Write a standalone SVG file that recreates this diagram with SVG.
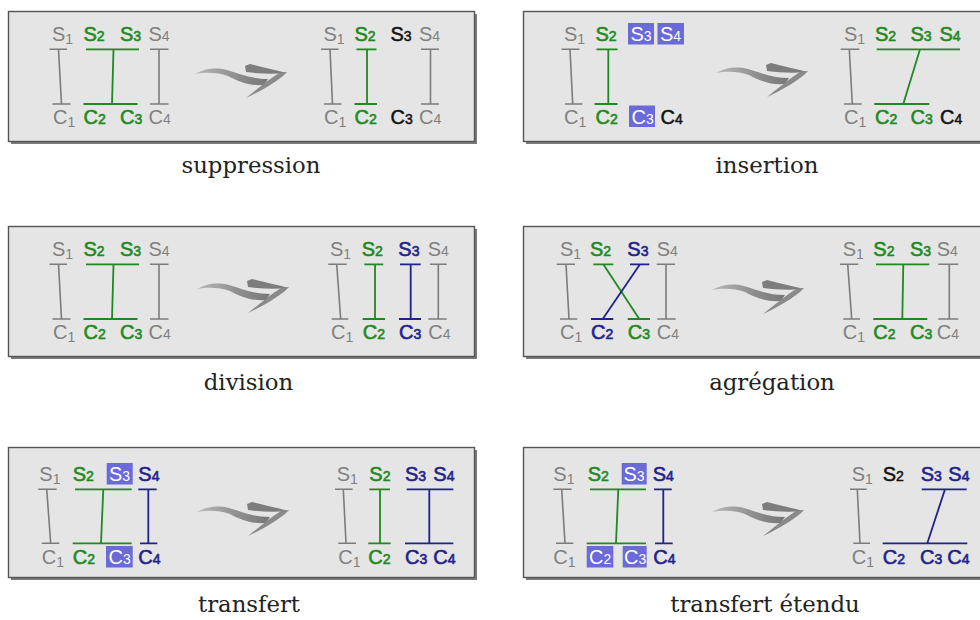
<svg xmlns="http://www.w3.org/2000/svg" width="980" height="620" viewBox="0 0 980 620">
<defs>
<style>
text{font-family:"Liberation Sans",Arial,sans-serif;font-size:20px}
.cap{font-family:"DejaVu Serif",serif;font-size:22.8px;fill:#222;text-anchor:middle}
.sub{font-size:14px}
.g{fill:#808080}
.gr{fill:#1f8a1f;stroke:#1f8a1f;stroke-width:0.6}
.bl{fill:#22228c;stroke:#22228c;stroke-width:0.6}
.bk{fill:#111;stroke:#111;stroke-width:0.5}
.wh{fill:#fff}
.hl{fill:#6a6ad8}
.lg{stroke:#7c7c7c;stroke-width:1.6;fill:none}
.lgr{stroke:#1f8a1f;stroke-width:1.8;fill:none}
.lbl{stroke:#22228c;stroke-width:1.8;fill:none}
.panel{fill:#e5e5e5;stroke:#555;stroke-width:1.4}
.shadow{fill:#7a7a7a}
</style>
<linearGradient id="ag" x1="0" y1="0" x2="1" y2="0">
<stop offset="0" stop-color="#b8b8b8"/>
<stop offset="0.6" stop-color="#8c8c8c"/>
<stop offset="1" stop-color="#777"/>
</linearGradient>
<g id="arrow">
<path fill="url(#ag)" d="M0,10 C9,5 19,3 32,6 C45,10 57,15 73,15 L69,21 C55,22 44,18 33,12 C22,8 10,8 0,10 Z"/>
<path fill="#7d7d7d" d="M50,2 L55,0 C66,3 80,6 92,9 C80,10 66,10 51,8 Z"/>
<path fill="#8a8a8a" d="M92,8 L88,12 C78,20 64,28 51,34 C61,26 73,16 84,9 Z"/>
</g>
</defs>

<!-- panels -->
<g id="panel-suppression">
<rect class="shadow" x="11" y="14" width="466" height="130"/>
<rect class="panel" x="8.5" y="11.5" width="466" height="130"/>
<use href="#arrow" x="195" y="64"/>
<g class="labels">
<text class="g" x="52" y="41">S<tspan class="sub" dy="3">1</tspan></text>
<text class="gr" x="83.5" y="41">S<tspan class="sub">2</tspan></text>
<text class="gr" x="120" y="41">S<tspan class="sub">3</tspan></text>
<text class="g" x="148.5" y="41">S<tspan class="sub">4</tspan></text>
<text class="g" x="53" y="123.5">C<tspan class="sub" dy="3">1</tspan></text>
<text class="gr" x="83.5" y="123.5">C<tspan class="sub">2</tspan></text>
<text class="gr" x="120" y="123.5">C<tspan class="sub">3</tspan></text>
<text class="g" x="148.5" y="123.5">C<tspan class="sub">4</tspan></text>
<text class="g" x="323.5" y="41">S<tspan class="sub" dy="3">1</tspan></text>
<text class="gr" x="354.5" y="41">S<tspan class="sub">2</tspan></text>
<text class="bk" x="390.5" y="41">S<tspan class="sub">3</tspan></text>
<text class="g" x="419" y="41">S<tspan class="sub">4</tspan></text>
<text class="g" x="324" y="123.5">C<tspan class="sub" dy="3">1</tspan></text>
<text class="gr" x="354.5" y="123.5">C<tspan class="sub">2</tspan></text>
<text class="bk" x="390.5" y="123.5">C<tspan class="sub">3</tspan></text>
<text class="g" x="419" y="123.5">C<tspan class="sub">4</tspan></text>
</g>
</g>

<g id="panel-insertion">
<rect class="shadow" x="526" y="14" width="470" height="130"/>
<rect class="panel" x="523.5" y="11.5" width="470" height="130"/>
<use href="#arrow" x="716" y="63"/>
<g class="labels">
<text class="g" x="564" y="41">S<tspan class="sub" dy="3">1</tspan></text>
<text class="gr" x="595.5" y="41">S<tspan class="sub">2</tspan></text>
<rect class="hl" x="628" y="23" width="26" height="21.5"/>
<text class="wh" x="630.5" y="41">S<tspan class="sub">3</tspan></text>
<rect class="hl" x="657.5" y="23" width="26.5" height="21.5"/>
<text class="wh" x="660" y="41">S<tspan class="sub">4</tspan></text>
<text class="g" x="564" y="123.5">C<tspan class="sub" dy="3">1</tspan></text>
<text class="gr" x="595.5" y="123.5">C<tspan class="sub">2</tspan></text>
<rect class="hl" x="629" y="105.5" width="26" height="21.5"/>
<text class="wh" x="631.5" y="123.5">C<tspan class="sub">3</tspan></text>
<text class="bk" x="660.5" y="123.5">C<tspan class="sub">4</tspan></text>
<text class="g" x="844" y="41">S<tspan class="sub" dy="3">1</tspan></text>
<text class="gr" x="875" y="41">S<tspan class="sub">2</tspan></text>
<text class="gr" x="910.5" y="41">S<tspan class="sub">3</tspan></text>
<text class="gr" x="939.5" y="41">S<tspan class="sub">4</tspan></text>
<text class="g" x="844" y="123.5">C<tspan class="sub" dy="3">1</tspan></text>
<text class="gr" x="875" y="123.5">C<tspan class="sub">2</tspan></text>
<text class="gr" x="910.5" y="123.5">C<tspan class="sub">3</tspan></text>
<text class="bk" x="940" y="123.5">C<tspan class="sub">4</tspan></text>
</g>
</g>

<g id="panel-division">
<rect class="shadow" x="11" y="229" width="466" height="130"/>
<rect class="panel" x="8.5" y="226.5" width="466" height="130"/>
<use href="#arrow" x="197" y="279"/>
<g class="labels">
<text class="g" x="52" y="256">S<tspan class="sub" dy="3">1</tspan></text>
<text class="gr" x="83.5" y="256">S<tspan class="sub">2</tspan></text>
<text class="gr" x="120" y="256">S<tspan class="sub">3</tspan></text>
<text class="g" x="148.5" y="256">S<tspan class="sub">4</tspan></text>
<text class="g" x="53" y="338.5">C<tspan class="sub" dy="3">1</tspan></text>
<text class="gr" x="83.5" y="338.5">C<tspan class="sub">2</tspan></text>
<text class="gr" x="120" y="338.5">C<tspan class="sub">3</tspan></text>
<text class="g" x="148.5" y="338.5">C<tspan class="sub">4</tspan></text>
<text class="g" x="330" y="256">S<tspan class="sub" dy="3">1</tspan></text>
<text class="gr" x="361.7" y="256">S<tspan class="sub">2</tspan></text>
<text class="bl" x="398.3" y="256">S<tspan class="sub">3</tspan></text>
<text class="g" x="427.7" y="256">S<tspan class="sub">4</tspan></text>
<text class="g" x="331" y="338.5">C<tspan class="sub" dy="3">1</tspan></text>
<text class="gr" x="362.7" y="338.5">C<tspan class="sub">2</tspan></text>
<text class="bl" x="399" y="338.5">C<tspan class="sub">3</tspan></text>
<text class="g" x="428.3" y="338.5">C<tspan class="sub">4</tspan></text>
</g>
</g>

<g id="panel-agregation">
<rect class="shadow" x="526" y="229" width="470" height="130"/>
<rect class="panel" x="523.5" y="226.5" width="470" height="130"/>
<use href="#arrow" x="712" y="280"/>
<g class="labels">
<text class="g" x="560" y="256">S<tspan class="sub" dy="3">1</tspan></text>
<text class="gr" x="590" y="256">S<tspan class="sub">2</tspan></text>
<text class="bl" x="627.3" y="256">S<tspan class="sub">3</tspan></text>
<text class="g" x="656.7" y="256">S<tspan class="sub">4</tspan></text>
<text class="g" x="560" y="338.5">C<tspan class="sub" dy="3">1</tspan></text>
<text class="bl" x="591" y="338.5">C<tspan class="sub">2</tspan></text>
<text class="gr" x="627.7" y="338.5">C<tspan class="sub">3</tspan></text>
<text class="g" x="656.7" y="338.5">C<tspan class="sub">4</tspan></text>
<text class="g" x="842.7" y="256">S<tspan class="sub" dy="3">1</tspan></text>
<text class="gr" x="873.3" y="256">S<tspan class="sub">2</tspan></text>
<text class="gr" x="910" y="256">S<tspan class="sub">3</tspan></text>
<text class="g" x="936.7" y="256">S<tspan class="sub">4</tspan></text>
<text class="g" x="842.7" y="338.5">C<tspan class="sub" dy="3">1</tspan></text>
<text class="gr" x="873.3" y="338.5">C<tspan class="sub">2</tspan></text>
<text class="gr" x="910" y="338.5">C<tspan class="sub">3</tspan></text>
<text class="g" x="936.7" y="338.5">C<tspan class="sub">4</tspan></text>
</g>
</g>

<g id="panel-transfert">
<rect class="shadow" x="11" y="450" width="466" height="130"/>
<rect class="panel" x="8.5" y="447.5" width="466" height="130"/>
<use href="#arrow" x="197" y="502"/>
<g class="labels">
<text class="g" x="39.3" y="481">S<tspan class="sub" dy="3">1</tspan></text>
<text class="gr" x="72.7" y="481">S<tspan class="sub">2</tspan></text>
<rect class="hl" x="106.7" y="463" width="26" height="21.5"/>
<text class="wh" x="109" y="481">S<tspan class="sub">3</tspan></text>
<text class="bl" x="138.3" y="481">S<tspan class="sub">4</tspan></text>
<text class="g" x="41.7" y="564">C<tspan class="sub" dy="3">1</tspan></text>
<text class="gr" x="72.7" y="564">C<tspan class="sub">2</tspan></text>
<rect class="hl" x="106" y="546" width="26.7" height="21.5"/>
<text class="wh" x="108.5" y="564">C<tspan class="sub">3</tspan></text>
<text class="bl" x="138.3" y="564">C<tspan class="sub">4</tspan></text>
<text class="g" x="336.7" y="481">S<tspan class="sub" dy="3">1</tspan></text>
<text class="gr" x="369.3" y="481">S<tspan class="sub">2</tspan></text>
<text class="bl" x="405" y="481">S<tspan class="sub">3</tspan></text>
<text class="bl" x="433.3" y="481">S<tspan class="sub">4</tspan></text>
<text class="g" x="338.3" y="564">C<tspan class="sub" dy="3">1</tspan></text>
<text class="gr" x="368.3" y="564">C<tspan class="sub">2</tspan></text>
<text class="bl" x="405" y="564">C<tspan class="sub">3</tspan></text>
<text class="bl" x="433.3" y="564">C<tspan class="sub">4</tspan></text>
</g>
</g>

<g id="panel-transfert-etendu">
<rect class="shadow" x="526" y="450" width="470" height="130"/>
<rect class="panel" x="523.5" y="447.5" width="470" height="130"/>
<use href="#arrow" x="712" y="502"/>
<g class="labels">
<text class="g" x="553.3" y="481">S<tspan class="sub" dy="3">1</tspan></text>
<text class="gr" x="587.7" y="481">S<tspan class="sub">2</tspan></text>
<rect class="hl" x="621.7" y="463" width="25" height="21.5"/>
<text class="wh" x="623.5" y="481">S<tspan class="sub">3</tspan></text>
<text class="bl" x="652.7" y="481">S<tspan class="sub">4</tspan></text>
<text class="g" x="553.3" y="564">C<tspan class="sub" dy="3">1</tspan></text>
<rect class="hl" x="586.7" y="546" width="26.6" height="21.5"/>
<text class="wh" x="589" y="564">C<tspan class="sub">2</tspan></text>
<rect class="hl" x="622.7" y="546" width="24" height="21.5"/>
<text class="wh" x="624" y="564">C<tspan class="sub">3</tspan></text>
<text class="bl" x="653.3" y="564">C<tspan class="sub">4</tspan></text>
<text class="g" x="851.7" y="481">S<tspan class="sub" dy="3">1</tspan></text>
<text class="bk" x="882.7" y="481">S<tspan class="sub">2</tspan></text>
<text class="bl" x="920.7" y="481">S<tspan class="sub">3</tspan></text>
<text class="bl" x="948.3" y="481">S<tspan class="sub">4</tspan></text>
<text class="g" x="851.7" y="564">C<tspan class="sub" dy="3">1</tspan></text>
<text class="bl" x="882.7" y="564">C<tspan class="sub">2</tspan></text>
<text class="bl" x="920" y="564">C<tspan class="sub">3</tspan></text>
<text class="bl" x="947.3" y="564">C<tspan class="sub">4</tspan></text>
</g>
</g>

<!-- connectors -->
<g id="connectors">
<!-- suppression -->
<path class="lg" d="M49.5,49.3H67M58.5,49.3L61.5,104M52.5,104H70.5M150,49.3H168.5M159,49.3V104M150,104H168.5"/>
<path class="lgr" d="M86,49.3H139M113.5,49.3L112,104M83.5,104H137.5"/>
<path class="lg" d="M321,49.3H338.5M330,49.3L332.5,104M324,104H341.5M421,49.3H439M430.5,49.3V104M421,104H439"/>
<path class="lgr" d="M356.5,49.3H376.5M367,49.3V104M354.5,104H377"/>
<!-- insertion -->
<path class="lg" d="M561.5,49.3H579.5M570,49.3L572.7,104M565,104H582.5"/>
<path class="lgr" d="M596.5,49.3H617.5M608.3,49.3V104M594.5,104H617.5"/>
<path class="lg" d="M840.7,49.3H859.3M849.3,49.3L852.3,104M844,104H861.7"/>
<path class="lgr" d="M876.7,49.3H960M920,49.3L903.3,104M874.3,104H929.3"/>
<!-- division -->
<path class="lg" d="M49.5,264.3H67M58.5,264.3L61.5,319M52.5,319H70.5M150,264.3H168.5M159,264.3V319M150,319H168.5"/>
<path class="lgr" d="M86,264.3H139M113.5,264.3L112,319M83.5,319H137.5"/>
<path class="lg" d="M328.3,264.3H346.7M336.7,264.3L340.7,319M331.7,319H348.3M430,264.3H446.7M438.3,264.3V319M428.3,319H446.7"/>
<path class="lgr" d="M364.3,264.3H383.3M375,264.3V319M362.7,319H385"/>
<path class="lbl" d="M400,264.3H420.7M410.7,264.3V319M399,319H421"/>
<!-- agregation -->
<path class="lg" d="M556.7,264.3H575M566,264.3L569,319M560,319H577.3M656.7,264.3H675M666,264.3V319M657.3,319H675.7"/>
<path class="lgr" d="M593.3,264.3H613.3M603.3,264.3L639.3,319M627.7,319H650"/>
<path class="lbl" d="M630,264.3H649.3M640,264.3L602.7,319M591,319H613.3"/>
<path class="lg" d="M840,264.3H858.3M847.7,264.3L851.7,319M843.3,319H860M938.3,264.3H958.3M949.3,264.3V319M938.3,319H958.3"/>
<path class="lgr" d="M876,264.3H929.3M903.3,264.3L902.3,319M873.3,319H927.3"/>
<!-- transfert -->
<path class="lg" d="M38.3,489.3H56.7M46.7,489.3L50.7,543.3M41.7,543.3H59.3"/>
<path class="lgr" d="M75,489.3H131.7M103.3,489.3L101,543.3M72.7,543.3H131.7"/>
<path class="lbl" d="M138.3,489.3H156.7M148.3,489.3V543.3M140,543.3H157.3"/>
<path class="lg" d="M335,489.3H352.7M343.3,489.3L346,543.3M338.3,543.3H356"/>
<path class="lgr" d="M369.3,489.3H390M380,489.3V543.3M368.3,543.3H390.7"/>
<path class="lbl" d="M406.7,489.3H453.3M429.3,489.3V543.3M405,543.3H453.3"/>
<!-- transfert etendu -->
<path class="lg" d="M553.3,489.3H571.7M561.7,489.3L565,543.3M556,543.3H573.3"/>
<path class="lgr" d="M590,489.3H646M618.3,489.3L616,543.3M586.7,543.3H646"/>
<path class="lbl" d="M654,489.3H671.7M663.3,489.3V543.3M655,543.3H672.7"/>
<path class="lg" d="M850,489.3H866.7M857.3,489.3L860,543.3M853.3,543.3H870"/>
<path class="lbl" d="M921.7,489.3H966.7M945,489.3L927.3,543.3M882.7,543.3H967.3"/>
</g>

<!-- captions -->
<g id="captions">
<text class="cap" x="251" y="173">suppression</text>
<text class="cap" x="767" y="173">insertion</text>
<text class="cap" x="248.5" y="390">division</text>
<text class="cap" x="772" y="390">agrégation</text>
<text class="cap" x="249" y="612">transfert</text>
<text class="cap" x="765" y="612">transfert étendu</text>
</g>
</svg>
